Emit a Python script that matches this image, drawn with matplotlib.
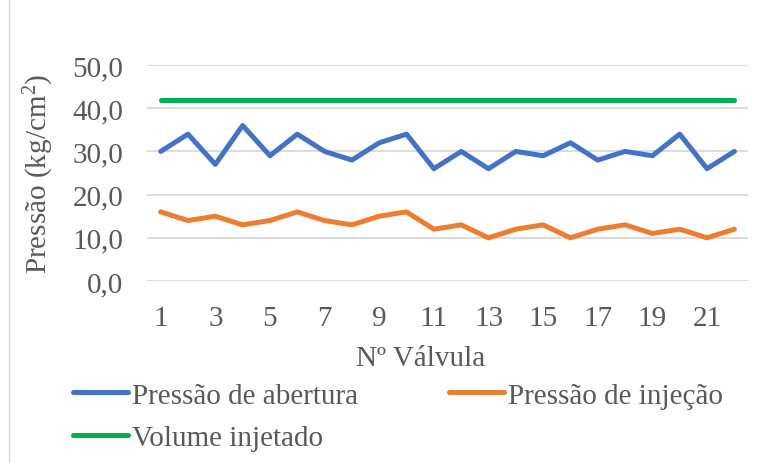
import matplotlib.pyplot as plt
from matplotlib.lines import Line2D

valvulas = list(range(1, 23))
abertura = [30, 34, 27, 36, 29, 34, 30, 28, 32, 34, 26, 30, 26, 30, 29, 32, 28, 30, 29, 34, 26, 30]
injecao = [16, 14, 15, 13, 14, 16, 14, 13, 15, 16, 12, 13, 10, 12, 13, 10, 12, 13, 11, 12, 10, 12]
volume = [42] * 22

plt.rcParams['font.family'] = ['Liberation Serif', 'DejaVu Serif']
plt.rcParams['mathtext.fontset'] = 'custom'
plt.rcParams['mathtext.rm'] = 'Liberation Serif'
plt.rcParams['mathtext.default'] = 'rm'
txt = '#595959'
fs = 21

fig = plt.figure(figsize=(7.73, 4.64), dpi=100)
ax = fig.add_axes([0.1902, 0.3922, 0.7775, 0.4655])

l1, = ax.plot(valvulas, abertura, color='#4472C4', lw=3.6, solid_capstyle='round', label='Pressão de abertura')
l2, = ax.plot(valvulas, injecao, color='#ED7D31', lw=3.6, solid_capstyle='round', label='Pressão de injeção')
l3, = ax.plot(valvulas, volume, color='#00B050', lw=3.6, solid_capstyle='round', label='Volume injetado')

ax.set_xlim(0.5, 22.5)
ax.set_ylim(0, 50)
ax.set_yticks(range(0, 51, 10))
ax.set_yticklabels([f'{v:.1f}'.replace('.', ',') for v in range(0, 51, 10)])
ax.set_xticks(range(1, 23, 2))
ax.grid(axis='y', color='#D9D9D9', lw=1.3)
ax.set_axisbelow(True)
for s in ax.spines.values():
    s.set_visible(False)
ax.tick_params(length=0, labelsize=fs, colors=txt)
ax.tick_params(axis='y', pad=17)
ax.tick_params(axis='x', pad=17)

ax.set_xlabel('Nº Válvula', fontsize=fs, color=txt)
ax.xaxis.set_label_coords(0.456, -0.355)
ax.xaxis.label.set_va('center')
ax.set_ylabel('Pressão (kg/cm$^{2}$)', fontsize=fs, color=txt)
ax.yaxis.set_label_coords(-0.18, 0.5)
ax.yaxis.label.set_va('center')

leg = fig.legend([l1, l3, l2], [l1.get_label(), l3.get_label(), l2.get_label()],
                 loc='upper left', bbox_to_anchor=(0.094, 0.174), ncol=2, frameon=False,
                 fontsize=fs, handlelength=1.9, handletextpad=0.14, columnspacing=3.1,
                 labelspacing=0.56, borderaxespad=0, borderpad=0)
for t in leg.get_texts():
    t.set_color(txt)

fig.add_artist(Line2D([9 / 773, 9 / 773], [0, 1], transform=fig.transFigure, color='#D9D9D9', lw=1))

fig.savefig('out.png', dpi=100)
